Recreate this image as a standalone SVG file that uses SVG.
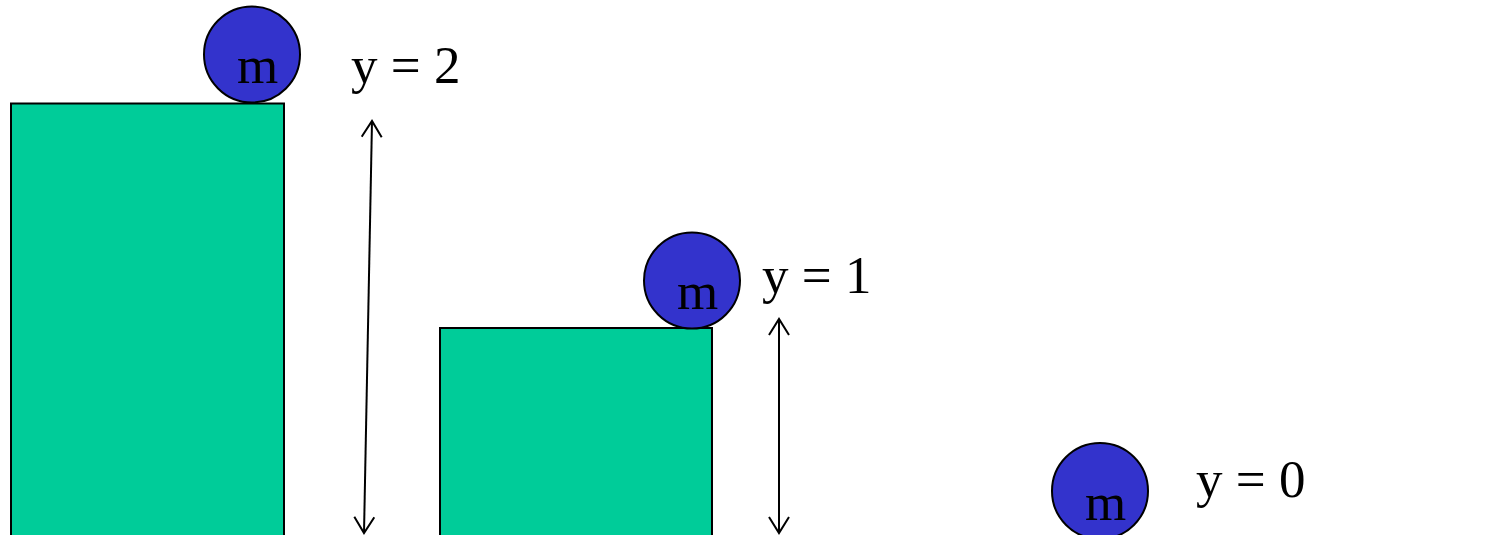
<svg xmlns="http://www.w3.org/2000/svg" width="1494" height="535" viewBox="0 0 1494 535">
<style>
.block{fill:#00CC99;stroke:#000;stroke-width:2}
.ball{fill:#3333CC;stroke:#000;stroke-width:2}
.t{font-family:"Liberation Serif",serif;font-size:53px;fill:#000}
.ln{stroke:#000;stroke-width:2;fill:none}
</style>
<defs>
<marker id="ah" viewBox="-17 -11 19 22" refX="0" refY="0" markerWidth="19" markerHeight="22" markerUnits="userSpaceOnUse" orient="auto-start-reverse">
<path d="M-16,-10 L0,0 L-16,10" fill="none" stroke="#000" stroke-width="2"/>
</marker>
</defs>
<rect width="1494" height="535" fill="#fff"/>
<g id="block1"><rect class="block" x="11" y="103.5" width="273" height="440"/></g>
<g id="block2"><rect class="block" x="440" y="328" width="272" height="215"/></g>
<g id="ball1"><circle class="ball" cx="252" cy="54.5" r="48"/><text class="t" x="237" y="83">m</text></g>
<g id="ball2"><circle class="ball" cx="692" cy="280.5" r="48"/><text class="t" x="677" y="309">m</text></g>
<g id="ball3"><circle class="ball" cx="1100" cy="491" r="48"/><text class="t" x="1085" y="520">m</text></g>
<g id="label2"><text class="t" x="351" y="83">y = 2</text></g>
<g id="label1"><text class="t" x="762" y="293">y = 1</text></g>
<g id="label0"><text class="t" x="1196" y="497">y = 0</text></g>
<g id="connectors">
<line class="ln" x1="372" y1="121" x2="364" y2="533" marker-start="url(#ah)" marker-end="url(#ah)"/>
<line class="ln" x1="779" y1="319" x2="779" y2="533" marker-start="url(#ah)" marker-end="url(#ah)"/>
</g>
</svg>
